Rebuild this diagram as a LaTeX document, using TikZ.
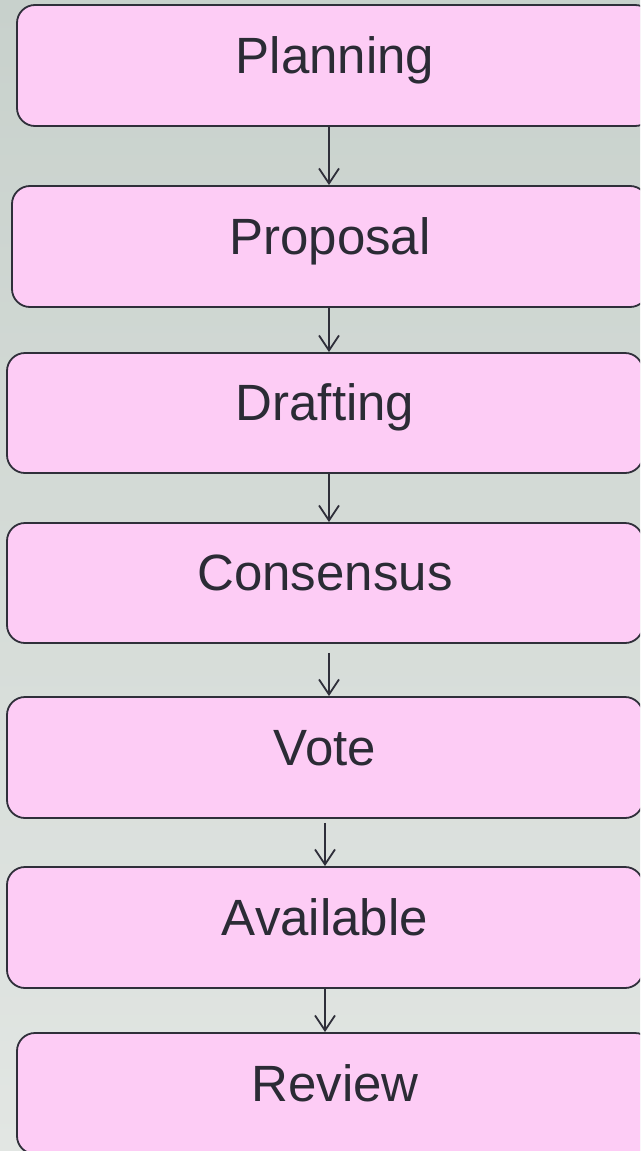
\documentclass[tikz,border=0pt]{standalone}
\usepackage{fontspec}
\setmainfont{Liberation Sans}
\usetikzlibrary{arrows.meta}
\definecolor{bgtop}{HTML}{C8D1CC}
\definecolor{bgbot}{HTML}{E2E6E3}
\definecolor{boxfill}{HTML}{FDCCF5}
\definecolor{boxline}{HTML}{2F2F3A}
\definecolor{txt}{HTML}{2B2B35}
\tikzset{
  stepbox/.style={draw=boxline, line width=1.8pt, fill=boxfill, rounded corners=18pt,
    minimum width=636pt, inner sep=0pt, text=txt,
    font=\fontsize{51}{60}\selectfont, text height=45pt, text depth=30pt},
  flowarrow/.style={draw=boxline, line width=1.8pt, -{Straight Barb[length=15pt,width=20pt,line width=1.8pt]}}
}
\begin{document}
\begin{tikzpicture}[x=1pt,y=-1pt]
\useasboundingbox (0,0) rectangle (640,1151);
\shade[top color=bgtop, bottom color=bgbot] (0,0) rectangle (640,1151);
\begin{scope}
\clip (0,0) rectangle (640,1151);
\node[stepbox, minimum height=121pt] (p1) at (335,65.5) {Planning};
\node[stepbox, minimum height=121pt] (p2) at (330,246.5) {Proposal};
\node[stepbox, minimum height=120pt] (p3) at (325,413) {Drafting};
\node[stepbox, minimum height=120pt] (p4) at (325,583) {Consensus};
\node[stepbox, minimum height=121pt] (p5) at (325,757.5) {Vote};
\node[stepbox, minimum height=121pt] (p6) at (325,927.5) {Available};
\node[stepbox, minimum height=121pt] (p7) at (335,1093.5) {Review};
\coordinate (ca) at (329,0);
\coordinate (cb) at (325,0);
\draw[flowarrow] (p1.south -| ca) -- (p2.north -| ca);
\draw[flowarrow] (p2.south -| ca) -- (p3.north -| ca);
\draw[flowarrow] (p3.south -| ca) -- (p4.north -| ca);
\draw[flowarrow, shorten <=9pt] (p4.south -| ca) -- (p5.north -| ca);
\draw[flowarrow, shorten <=4pt] (p5.south -| cb) -- (p6.north -| cb);
\draw[flowarrow] (p6.south -| cb) -- (p7.north -| cb);
\end{scope}
\end{tikzpicture}
\end{document}
